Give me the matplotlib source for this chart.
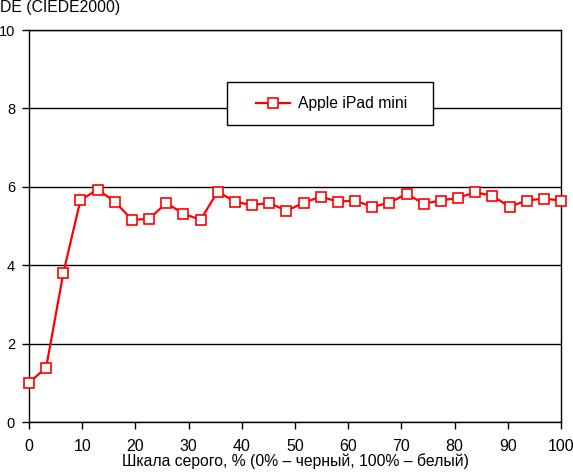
import matplotlib
matplotlib.use("Agg")
import matplotlib.pyplot as plt
import matplotlib.patches as mpatches
import numpy as np

plt.rcParams["font.family"] = ["Liberation Sans", "DejaVu Sans"]

# grey level steps, % (32 steps from 0 to 100)
gray_pct = np.linspace(0, 100, 32)
delta_e = [1.00, 1.39, 3.80, 5.66, 5.93, 5.62, 5.16, 5.18, 5.59, 5.31,
           5.16, 5.88, 5.62, 5.53, 5.59, 5.39, 5.59, 5.75, 5.62, 5.65,
           5.49, 5.59, 5.82, 5.57, 5.65, 5.72, 5.86, 5.77, 5.49, 5.65,
           5.70, 5.65]
series_label = "Apple iPad mini"
x_ticks = [0, 10, 20, 30, 40, 50, 60, 70, 80, 90, 100]
y_ticks = [0, 2, 4, 6, 8, 10]

fig = plt.figure(figsize=(5.73, 4.72), dpi=100)
ax = fig.add_axes([29 / 573, 1 - 422 / 472, 532 / 573, 392 / 472])

ax.plot(gray_pct, delta_e, color="red", linewidth=1.6, marker="s",
        markersize=7.5, markerfacecolor="white", markeredgecolor="red",
        markeredgewidth=1.2, label=series_label, clip_on=False, zorder=3)

ax.set_xlim(0, 100)
ax.set_ylim(0, 10)
ax.set_xticks(x_ticks)
ax.set_yticks(y_ticks)
ax.grid(axis="y", color="black", linewidth=1.0)
ax.set_axisbelow(True)
for s in ax.spines.values():
    s.set_color("black")
    s.set_linewidth(1.0)
ax.tick_params(axis="both", direction="out", length=5, width=1, colors="black")
ax.tick_params(axis="y", pad=5, labelsize=10.5)
ax.tick_params(axis="x", pad=7, labelsize=11.5)

ax.set_xlabel("Шкала серого, % (0% – черный, 100% – белый)", fontsize=11.3, labelpad=0)
fig.text(0.0, 1.0, "DE (CIEDE2000)", fontsize=11.3, va="top", ha="left")

# legend box: white rectangle with black frame, entry centred in it
ax.add_patch(mpatches.Rectangle((0.372, 0.758), 0.387, 0.109, transform=ax.transAxes,
                                facecolor="white", edgecolor="black", linewidth=1.0,
                                zorder=4))
leg = ax.legend(loc="center", bbox_to_anchor=(0.569, 0.8125), fontsize=11.3,
                frameon=False, handlelength=2.2, borderaxespad=0, borderpad=0,
                handletextpad=0.5)
leg.set_zorder(5)

fig.savefig("out.png", dpi=100)
